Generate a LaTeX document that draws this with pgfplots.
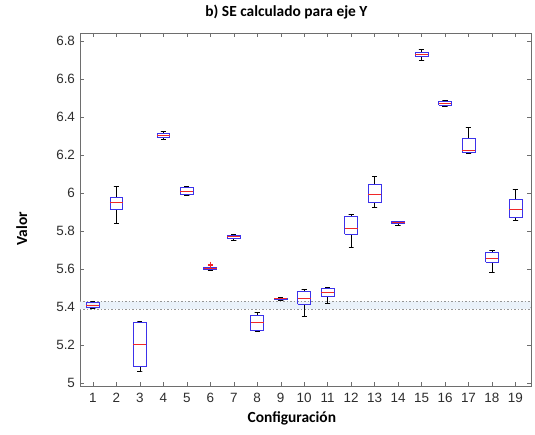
\documentclass[border=0pt]{standalone}
\usepackage{fontspec}
\setmainfont{Carlito}
\newfontfamily\arialf{Liberation Sans}
\usepackage{pgfplots}
\pgfplotsset{compat=1.18}
\definecolor{axgray}{RGB}{110,110,110}
\definecolor{txtgray}{RGB}{45,45,45}
\definecolor{bandblue}{RGB}{234,242,250}
\definecolor{bandline}{RGB}{150,150,150}
\definecolor{mblue}{RGB}{60,50,235}
\definecolor{mred}{RGB}{240,40,40}
\begin{document}
\begin{tikzpicture}
\useasboundingbox (-80bp,-49bp) rectangle (455bp,386bp);
\begin{axis}[
 scale only axis, width=450.7bp, height=353bp,
 at={(0,0)}, anchor=south west,
 xmin=0.45, xmax=19.65, ymin=4.984, ymax=6.842,
 xtick={1,...,19}, ytick={5,5.2,5.4,5.6,5.8,6,6.2,6.4,6.6,6.8},
 tick align=inside, major tick length=4bp,
 axis line style={axgray}, tick style={axgray, thin},
 ticklabel style={font=\arialf\fontsize{13.5}{15}\selectfont, text=txtgray},
 /pgf/number format/assume math mode=true,
 xticklabel style={yshift=-4bp},
 yticklabel style={xshift=-1.5bp},
 title={b) SE calculado para eje Y},
 title style={font=\bfseries\fontsize{15.5}{17}\selectfont, at={(axis description cs:0.458,1)}, anchor=south, yshift=4bp},
 xlabel={Configuración},
 xlabel style={font=\bfseries\fontsize{15.5}{17}\selectfont, at={(axis description cs:0.47,-0.093)}, anchor=center},
 ylabel={Valor},
 ylabel style={font=\bfseries\fontsize{15.5}{17}\selectfont, at={(axis description cs:-0.129,0.445)}, anchor=center},
 unbounded coords=jump,
]
% reference band
\addplot[draw=none, fill=bandblue] coordinates {(0.45,5.39) (19.65,5.39) (19.65,5.43) (0.45,5.43) (0.45,5.39)};
\addplot[bandline, dash pattern=on 1.5bp off 2bp, line width=0.6bp] coordinates {(0.45,5.39) (19.65,5.39)};
\addplot[bandline, dash pattern=on 1.5bp off 2bp, line width=0.6bp] coordinates {(0.45,5.43) (19.65,5.43)};
% whiskers and caps (lower whisker, Q1, Q3, upper whisker)
\addplot[black, line width=0.6bp] coordinates {
(0.89,5.395)(1.11,5.395)(1,5.395)(1,5.400)(1,nan)(1,5.425)(1,5.430)(0.89,5.430)(1.11,5.430)(1,nan)
(1.89,5.840)(2.11,5.840)(2,5.840)(2,5.915)(2,nan)(2,5.975)(2,6.035)(1.89,6.035)(2.11,6.035)(2,nan)
(2.89,5.063)(3.11,5.063)(3,5.063)(3,5.085)(3,nan)(3,5.320)(3,5.325)(2.89,5.325)(3.11,5.325)(3,nan)
(3.89,6.283)(4.11,6.283)(4,6.283)(4,6.293)(4,nan)(4,6.315)(4,6.325)(3.89,6.325)(4.11,6.325)(4,nan)
(4.89,5.990)(5.11,5.990)(5,5.990)(5,5.995)(5,nan)(5,6.028)(5,6.035)(4.89,6.035)(5.11,6.035)(5,nan)
(5.89,5.593)(6.11,5.593)(6,5.593)(6,5.597)(6,nan)(6,5.607)(6,5.610)(5.89,5.610)(6.11,5.610)(6,nan)
(6.89,5.752)(7.11,5.752)(7,5.752)(7,5.760)(7,nan)(7,5.778)(7,5.782)(6.89,5.782)(7.11,5.782)(7,nan)
(7.89,5.272)(8.11,5.272)(8,5.272)(8,5.276)(8,nan)(8,5.357)(8,5.370)(7.89,5.370)(8.11,5.370)(8,nan)
(8.89,5.437)(9.11,5.437)(9,5.437)(9,5.439)(9,nan)(9,5.447)(9,5.449)(8.89,5.449)(9.11,5.449)(9,nan)
(9.89,5.350)(10.11,5.350)(10,5.350)(10,5.415)(10,nan)(10,5.480)(10,5.495)(9.89,5.495)(10.11,5.495)(10,nan)
(10.89,5.420)(11.11,5.420)(11,5.420)(11,5.458)(11,nan)(11,5.497)(11,5.505)(10.89,5.505)(11.11,5.505)(11,nan)
(11.89,5.715)(12.11,5.715)(12,5.715)(12,5.783)(12,nan)(12,5.875)(12,5.888)(11.89,5.888)(12.11,5.888)(12,nan)
(12.89,5.922)(13.11,5.922)(13,5.922)(13,5.950)(13,nan)(13,6.045)(13,6.090)(12.89,6.090)(13.11,6.090)(13,nan)
(13.89,5.832)(14.11,5.832)(14,5.832)(14,5.838)(14,nan)(14,5.849)(14,5.853)(13.89,5.853)(14.11,5.853)(14,nan)
(14.89,6.700)(15.11,6.700)(15,6.700)(15,6.717)(15,nan)(15,6.740)(15,6.757)(14.89,6.757)(15.11,6.757)(15,nan)
(15.89,6.455)(16.11,6.455)(16,6.455)(16,6.463)(16,nan)(16,6.480)(16,6.488)(15.89,6.488)(16.11,6.488)(16,nan)
(16.89,6.210)(17.11,6.210)(17,6.210)(17,6.215)(17,nan)(17,6.290)(17,6.345)(16.89,6.345)(17.11,6.345)(17,nan)
(17.89,5.585)(18.11,5.585)(18,5.585)(18,5.635)(18,nan)(18,5.690)(18,5.700)(17.89,5.700)(18.11,5.700)(18,nan)
(18.89,5.854)(19.11,5.854)(19,5.854)(19,5.872)(19,nan)(19,5.967)(19,6.018)(18.89,6.018)(19.11,6.018)
};
% boxes (Q1 to Q3)
\addplot[mblue, line width=0.7bp] coordinates {
(0.725,5.400)(1.275,5.400)(1.275,5.425)(0.725,5.425)(0.725,5.400)(1,nan)
(1.725,5.915)(2.275,5.915)(2.275,5.975)(1.725,5.975)(1.725,5.915)(2,nan)
(2.725,5.085)(3.275,5.085)(3.275,5.320)(2.725,5.320)(2.725,5.085)(3,nan)
(3.725,6.293)(4.275,6.293)(4.275,6.315)(3.725,6.315)(3.725,6.293)(4,nan)
(4.725,5.995)(5.275,5.995)(5.275,6.028)(4.725,6.028)(4.725,5.995)(5,nan)
(5.725,5.597)(6.275,5.597)(6.275,5.607)(5.725,5.607)(5.725,5.597)(6,nan)
(6.725,5.760)(7.275,5.760)(7.275,5.778)(6.725,5.778)(6.725,5.760)(7,nan)
(7.725,5.276)(8.275,5.276)(8.275,5.357)(7.725,5.357)(7.725,5.276)(8,nan)
(8.725,5.439)(9.275,5.439)(9.275,5.447)(8.725,5.447)(8.725,5.439)(9,nan)
(9.725,5.415)(10.275,5.415)(10.275,5.480)(9.725,5.480)(9.725,5.415)(10,nan)
(10.725,5.458)(11.275,5.458)(11.275,5.497)(10.725,5.497)(10.725,5.458)(11,nan)
(11.725,5.783)(12.275,5.783)(12.275,5.875)(11.725,5.875)(11.725,5.783)(12,nan)
(12.725,5.950)(13.275,5.950)(13.275,6.045)(12.725,6.045)(12.725,5.950)(13,nan)
(13.725,5.838)(14.275,5.838)(14.275,5.849)(13.725,5.849)(13.725,5.838)(14,nan)
(14.725,6.717)(15.275,6.717)(15.275,6.740)(14.725,6.740)(14.725,6.717)(15,nan)
(15.725,6.463)(16.275,6.463)(16.275,6.480)(15.725,6.480)(15.725,6.463)(16,nan)
(16.725,6.215)(17.275,6.215)(17.275,6.290)(16.725,6.290)(16.725,6.215)(17,nan)
(17.725,5.635)(18.275,5.635)(18.275,5.690)(17.725,5.690)(17.725,5.635)(18,nan)
(18.725,5.872)(19.275,5.872)(19.275,5.967)(18.725,5.967)(18.725,5.872)
};
% medians
\addplot[mred, line width=0.7bp] coordinates {
(0.725,5.410)(1.275,5.410)(1,nan)
(1.725,5.950)(2.275,5.950)(2,nan)
(2.725,5.205)(3.275,5.205)(3,nan)
(3.725,6.303)(4.275,6.303)(4,nan)
(4.725,6.010)(5.275,6.010)(5,nan)
(5.725,5.602)(6.275,5.602)(6,nan)
(6.725,5.770)(7.275,5.770)(7,nan)
(7.725,5.318)(8.275,5.318)(8,nan)
(8.725,5.443)(9.275,5.443)(9,nan)
(9.725,5.445)(10.275,5.445)(10,nan)
(10.725,5.477)(11.275,5.477)(11,nan)
(11.725,5.815)(12.275,5.815)(12,nan)
(12.725,5.993)(13.275,5.993)(13,nan)
(13.725,5.843)(14.275,5.843)(14,nan)
(14.725,6.728)(15.275,6.728)(15,nan)
(15.725,6.472)(16.275,6.472)(16,nan)
(16.725,6.225)(17.275,6.225)(17,nan)
(17.725,5.655)(18.275,5.655)(18,nan)
(18.725,5.916)(19.275,5.916)
};
% outliers
\addplot[only marks, mark=+, mred, mark size=2.5bp, line width=0.6bp] coordinates {(6,5.618) (6,5.626)};
\end{axis}
\end{tikzpicture}
\end{document}
